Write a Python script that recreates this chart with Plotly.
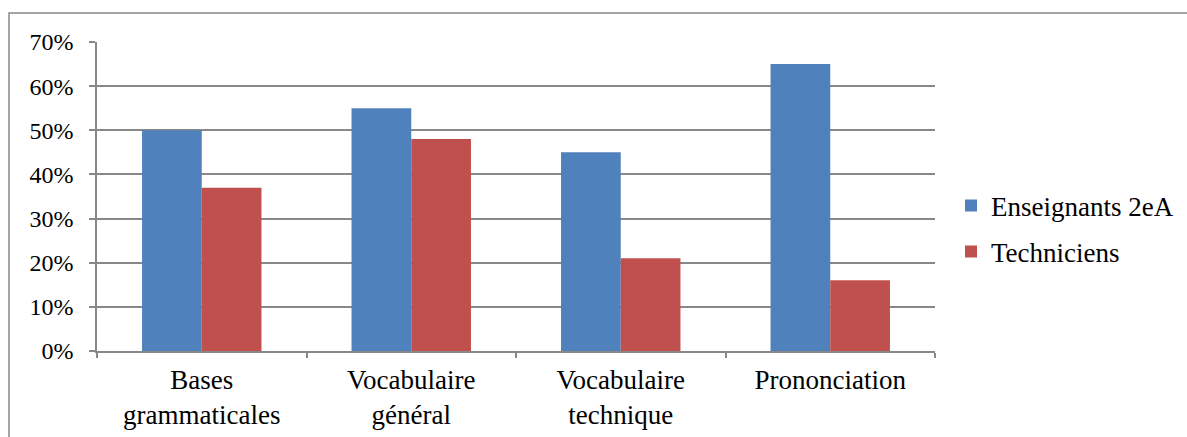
import plotly.graph_objects as go

categories = ["Bases<br>grammaticales", "Vocabulaire<br>général", "Vocabulaire<br>technique", "Prononciation"]
series_names = ["Enseignants 2eA", "Techniciens"]
enseignants = [0.50, 0.55, 0.45, 0.65]
techniciens = [0.37, 0.48, 0.21, 0.16]
y_ticks = [0, 0.1, 0.2, 0.3, 0.4, 0.5, 0.6, 0.7]
y_tick_labels = ["0%", "10%", "20%", "30%", "40%", "50%", "60%", "70%"]

W, H = 1187, 437
L, R, T, B = 97, 935, 42, 351
FONT = "Liberation Serif"
FS = 27

fig = go.Figure()
fig.add_trace(go.Bar(x=categories, y=enseignants, name=series_names[0],
                     marker=dict(color="#4F81BD", line=dict(width=0)), legend="legend"))
fig.add_trace(go.Bar(x=categories, y=techniciens, name=series_names[1],
                     marker=dict(color="#C0504D", line=dict(width=0)), legend="legend2"))

pw = R - L
ph = B - T
def px(x):
    return (x - L) / pw
def py(y):
    return (B - y) / ph

leg_common = dict(xref="container", yref="container", xanchor="left", yanchor="middle",
                  font=dict(family=FONT, size=FS), itemwidth=30,
                  bgcolor="rgba(0,0,0,0)")

fig.update_layout(
    width=W, height=H,
    margin=dict(l=L, r=W - R, t=T, b=H - B, pad=0, autoexpand=False),
    paper_bgcolor="white", plot_bgcolor="white",
    barmode="group", bargap=0.43, bargroupgap=0,
    font=dict(family=FONT, size=FS, color="black"),
    showlegend=True,
    legend=dict(x=951 / W, y=1 - 206 / H, **leg_common),
    legend2=dict(x=951 / W, y=1 - 252 / H, **leg_common),
    xaxis=dict(showgrid=False, showline=True, linecolor="#888888", linewidth=1.5,
               ticks="outside", tickson="boundaries", ticklen=5, tickcolor="#888888",
               tickwidth=1.5, tickfont=dict(family=FONT, size=FS), ticklabelstandoff=4),
    yaxis=dict(range=[0, 0.7], tickvals=y_ticks, ticktext=y_tick_labels,
               showgrid=True, gridcolor="#888888", gridwidth=1.5,
               showline=True, linecolor="#888888", linewidth=1.5,
               ticks="outside", ticklen=6, tickcolor="#888888", tickwidth=1.5,
               tickfont=dict(family=FONT, size=24), ticklabelstandoff=11,
               zeroline=False),
    shapes=[dict(type="rect", xref="paper", yref="paper",
                 x0=px(9), x1=px(W + 10), y0=py(H + 10), y1=py(13),
                 line=dict(color="#888888", width=1.5), fillcolor="rgba(0,0,0,0)",
                 layer="below")],
)

fig.write_html("out.html", config={"displayModeBar": False},
               post_script="document.body.style.margin='0';")
